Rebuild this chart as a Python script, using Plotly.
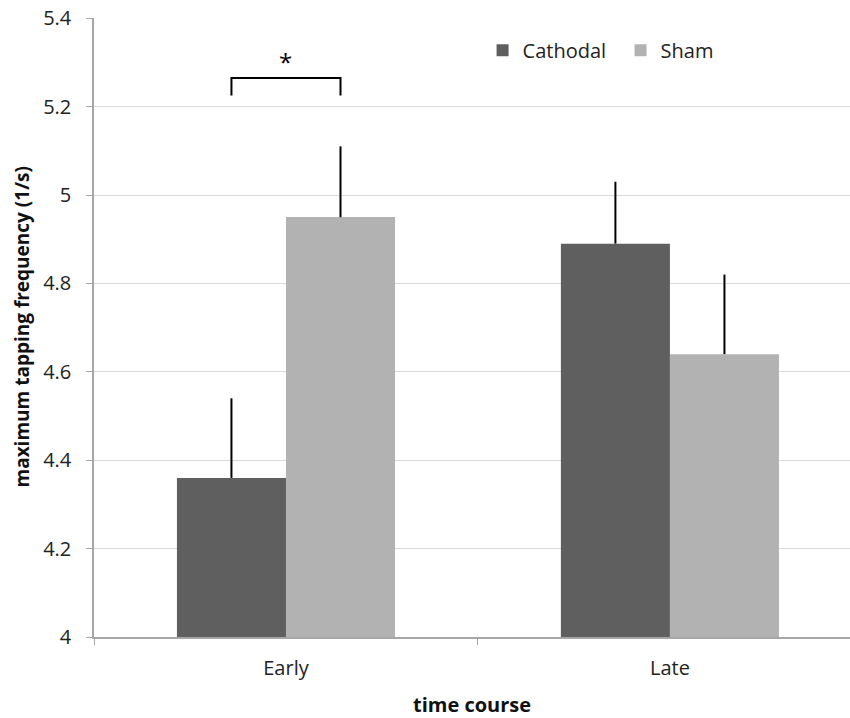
import plotly.graph_objects as go

categories = ["Early", "Late"]
cathodal = [4.36, 4.89]
cathodal_err = [0.18, 0.14]
sham = [4.95, 4.64]
sham_err = [0.16, 0.18]
y_ticks = [4, 4.2, 4.4, 4.6, 4.8, 5, 5.2, 5.4]
y_tick_labels = ["4", "4.2", "4.4", "4.6", "4.8", "5", "5.2", "5.4"]
bracket_low, bracket_high, star_y = 5.225, 5.265, 5.303

FONT = "Open Sans"
bargap = 0.432
bar_w = (1 - bargap) / 2

fig = go.Figure()
fig.add_trace(go.Bar(
    x=categories, y=[v - 4 for v in cathodal], base=4, name="Cathodal",
    marker=dict(color="#5f5f5f", line=dict(width=0)),
    error_y=dict(type="data", array=cathodal_err, arrayminus=[0, 0], symmetric=False,
                 width=0, thickness=2, color="black"),
))
fig.add_trace(go.Bar(
    x=categories, y=[v - 4 for v in sham], base=4, name="Sham",
    marker=dict(color="#b2b2b2", line=dict(width=0)),
    error_y=dict(type="data", array=sham_err, arrayminus=[0, 0], symmetric=False,
                 width=0, thickness=2, color="black"),
))

# significance bracket between Early bars
x0 = 0 - bar_w / 2
x1 = 0 + bar_w / 2
fig.add_shape(type="path", xref="x", yref="y",
              path=f"M {x0},{bracket_low} L {x0},{bracket_high} L {x1},{bracket_high} L {x1},{bracket_low}",
              line=dict(color="black", width=2))
fig.add_annotation(x=0, y=star_y, xref="x", yref="y", text="*", showarrow=False,
                   font=dict(family=FONT, size=24, color="black"))

# axis titles
fig.add_annotation(x=-73 / 756, y=0.5, xref="paper", yref="paper",
                   text="<b>maximum tapping frequency (1/s)</b>",
                   showarrow=False, textangle=-90, xanchor="center", yanchor="middle",
                   font=dict(family=FONT, size=19, color="#111"))
fig.add_annotation(x=0.5, y=-0.109, xref="paper", yref="paper", text="<b>time course</b>",
                   showarrow=False, xanchor="center", yanchor="middle",
                   font=dict(family=FONT, size=20, color="#111"))

fig.update_layout(
    width=850, height=718,
    margin=dict(l=94, r=0, t=18, b=81, autoexpand=False),
    paper_bgcolor="white", plot_bgcolor="white",
    barmode="group", bargap=bargap, bargroupgap=0,
    font=dict(family=FONT, color="#222"),
    showlegend=True,
    legend=dict(orientation="h", x=0.514, y=0.948, xanchor="left", yanchor="middle",
                font=dict(family=FONT, size=20, color="#222"), entrywidth=93,
                bgcolor="rgba(0,0,0,0)", traceorder="normal"),
    xaxis=dict(range=[-0.5, 1.469], showgrid=False, showline=True, linecolor="#a6a6a6", linewidth=1.5,
               ticks="outside", tickson="boundaries", ticklen=6, tickcolor="#a6a6a6",
               automargin=False, ticklabelstandoff=12,
               tickfont=dict(family=FONT, size=20, color="#222")),
    yaxis=dict(range=[4, 5.4005], tickvals=y_ticks, ticktext=y_tick_labels,
               showgrid=True, gridcolor="#d9d9d9", gridwidth=1,
               showline=True, linecolor="#a6a6a6", linewidth=1.5,
               ticks="outside", ticklen=6, tickcolor="#a6a6a6", automargin=False,
               ticklabelstandoff=11, ticklabeloverflow="allow",
               tickfont=dict(family=FONT, size=20, color="#222"), zeroline=False),
)

fig.write_html("out.html", config={"displayModeBar": False},
               post_script="document.body.style.margin='0';")
